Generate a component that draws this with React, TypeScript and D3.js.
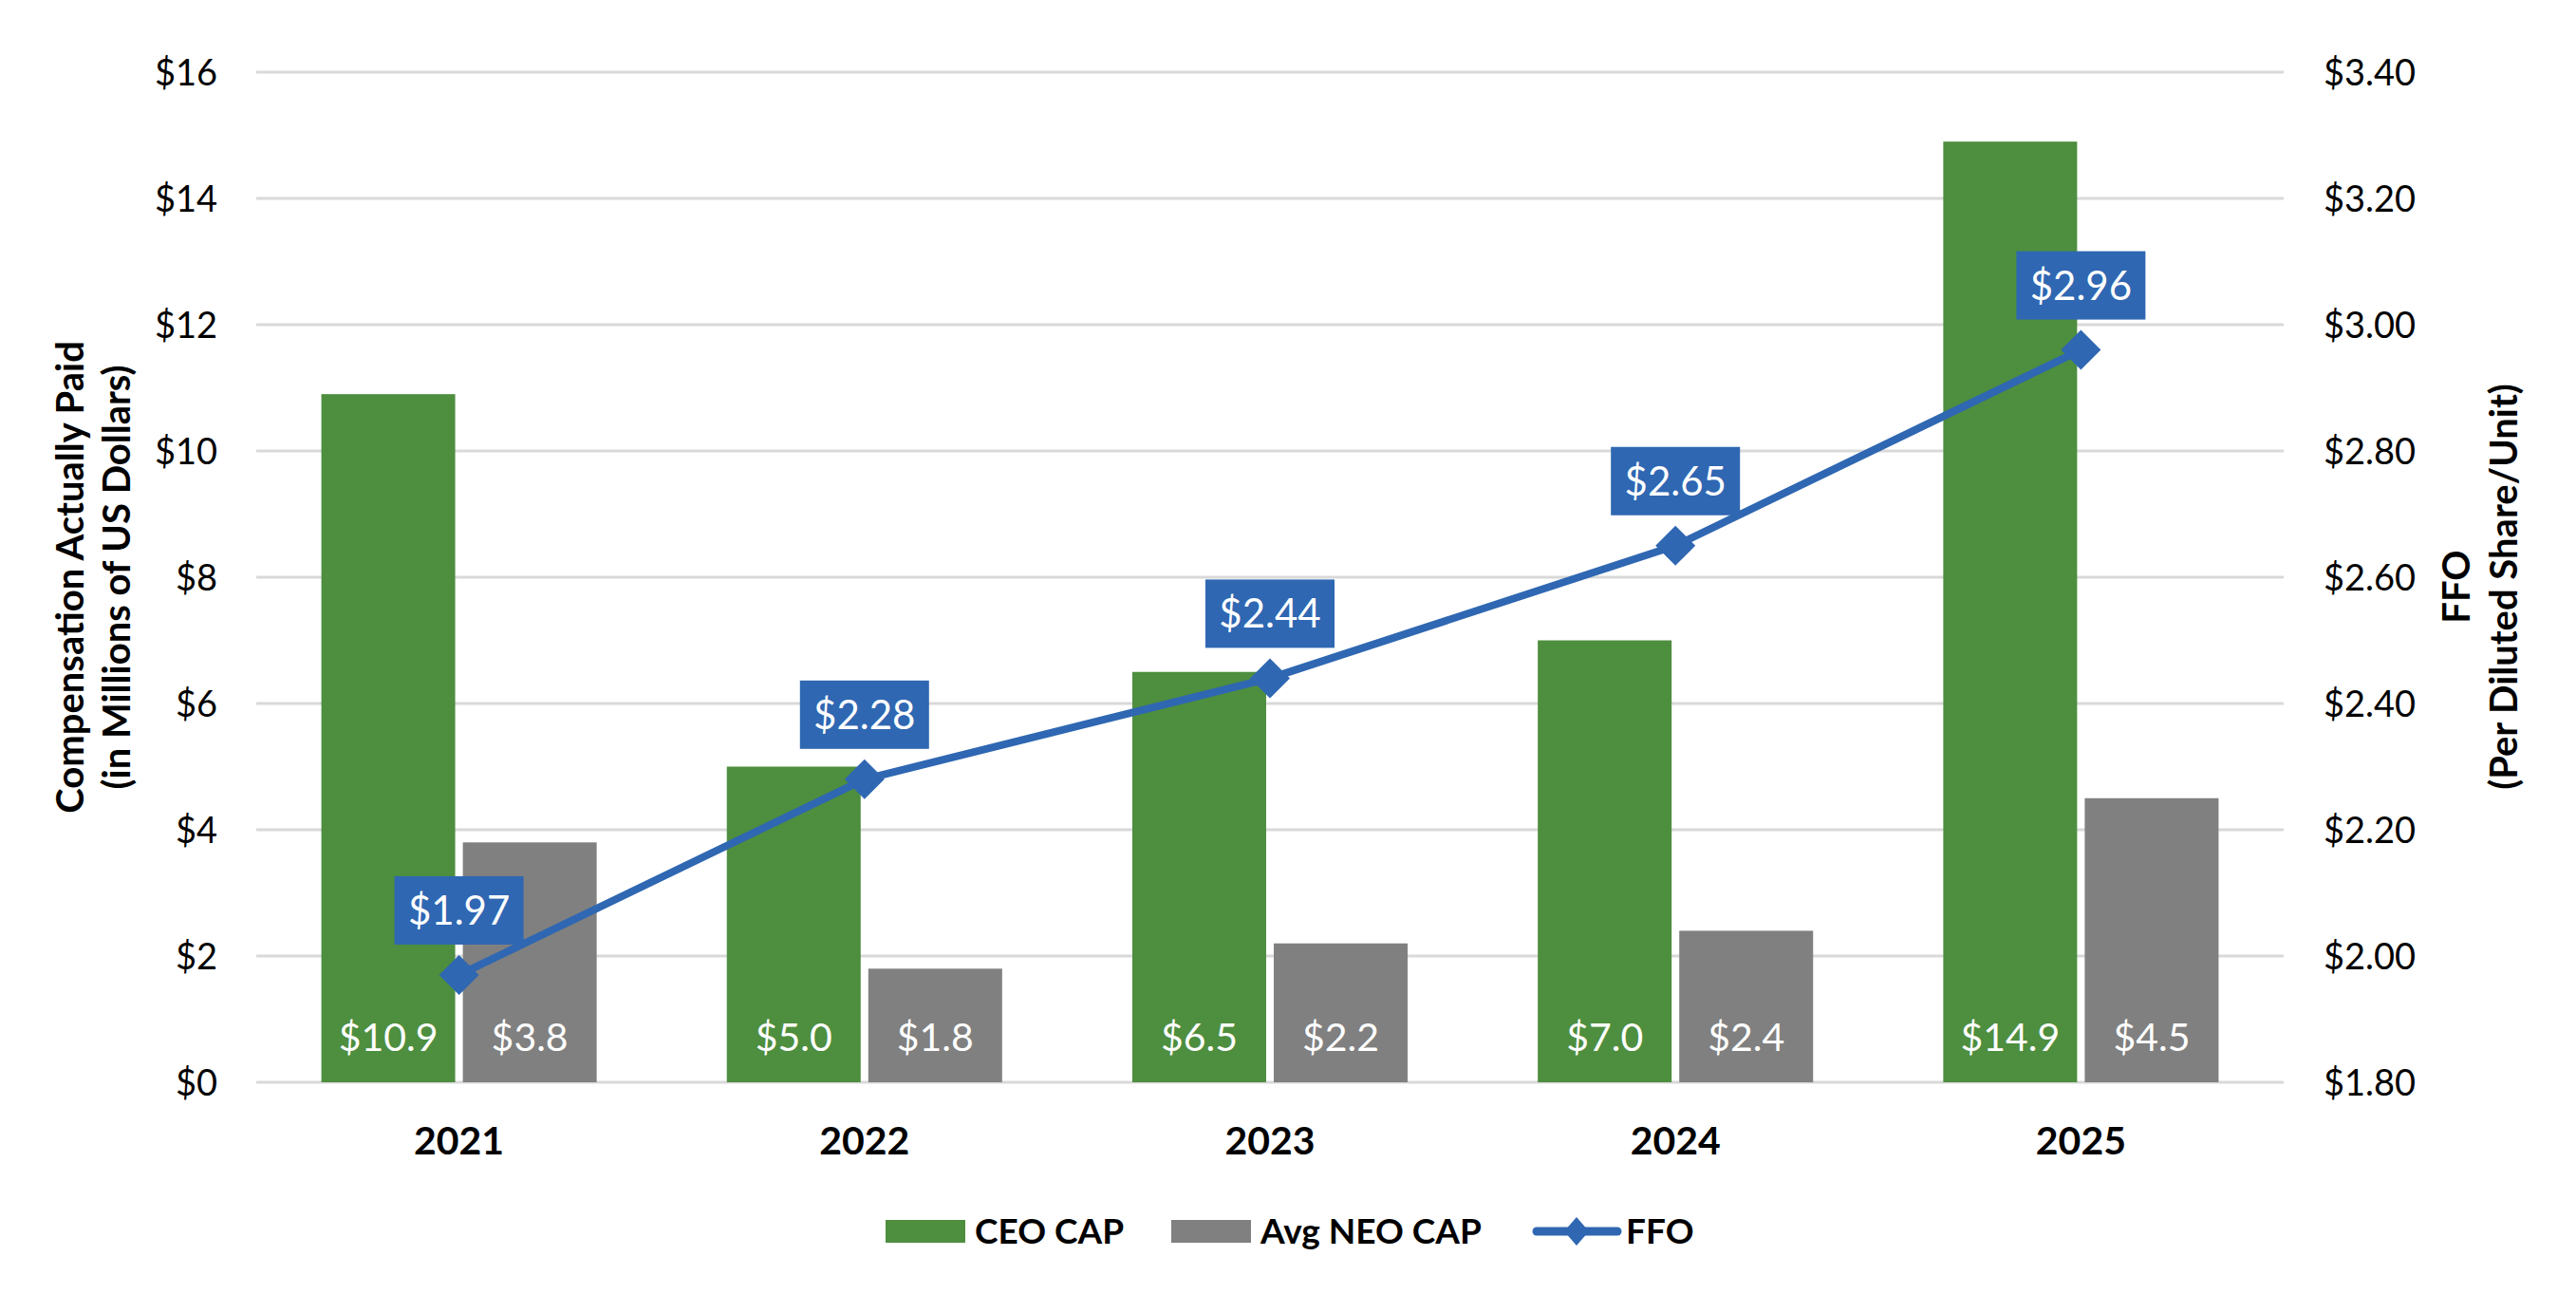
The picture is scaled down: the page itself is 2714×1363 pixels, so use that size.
import React from 'react';
import * as d3 from 'd3';

const years = ['2021', '2022', '2023', '2024', '2025'];
const ceoCap = [10.9, 5.0, 6.5, 7.0, 14.9];
const neoCap = [3.8, 1.8, 2.2, 2.4, 4.5];
const ffo = [1.97, 2.28, 2.44, 2.65, 2.96];
const leftTicks = [0, 2, 4, 6, 8, 10, 12, 14, 16];
const rightTicks = [1.8, 2.0, 2.2, 2.4, 2.6, 2.8, 3.0, 3.2, 3.4];
const seriesNames = ['CEO CAP', 'Avg NEO CAP', 'FFO'];

const W = 2714;
const H = 1363;
const GREEN = '#4e8e3f';
const GRAY = '#808080';
const BLUE = '#2f67b2';
const FONT = 'Lato, "Open Sans", sans-serif';

export default function App() {
  const plot = { left: 270, right: 2406, top: 76, bottom: 1140 };

  const x = d3.scaleBand<string>().domain(years).range([plot.left, plot.right]);
  const sub = d3.scaleBand<string>()
    .domain(['ceo', 'neo'])
    .range([0, x.bandwidth()])
    .paddingInner(0.054)
    .paddingOuter(0.46);
  const yL = d3.scaleLinear().domain([0, 16]).range([plot.bottom, plot.top]);
  const yR = d3.scaleLinear().domain([1.8, 3.4]).range([plot.bottom, plot.top]);

  const cx = (yr: string) => (x(yr) as number) + x.bandwidth() / 2;
  const line = d3.line<number>()
    .x((_, i) => cx(years[i]))
    .y(d => yR(d));

  const diamond = (px: number, py: number, r: number) =>
    `M${px},${py - r}L${px + r},${py}L${px},${py + r}L${px - r},${py}Z`;

  const bars = [
    { key: 'ceo', values: ceoCap, color: GREEN },
    { key: 'neo', values: neoCap, color: GRAY },
  ];

  return (
    <svg width={W} height={H} style={{ position: 'absolute', left: 0, top: 0 }} fontFamily={FONT}>
      <rect width={W} height={H} fill="#fff" />

      {/* gridlines */}
      {leftTicks.map(t => (
        <line key={t} x1={plot.left} x2={plot.right} y1={yL(t)} y2={yL(t)} stroke="#d9d9d9" strokeWidth={3} />
      ))}

      {/* left ticks */}
      {leftTicks.map(t => (
        <text key={'l' + t} x={229} y={yL(t)} dy="0.36em" textAnchor="end" fontSize={38} fill="#000">
          {'$' + t}
        </text>
      ))}
      {/* right ticks */}
      {rightTicks.map(t => (
        <text key={'r' + t} x={2448} y={yR(t)} dy="0.36em" textAnchor="start" fontSize={38} fill="#000">
          {'$' + t.toFixed(2)}
        </text>
      ))}

      {/* bars */}
      {bars.map(s =>
        s.values.map((v, i) => {
          const bx = (x(years[i]) as number) + (sub(s.key) as number);
          return (
            <g key={s.key + i}>
              <rect x={bx} y={yL(v)} width={sub.bandwidth()} height={yL(0) - yL(v)} fill={s.color} />
              <text x={bx + sub.bandwidth() / 2} y={plot.bottom - 33} textAnchor="middle" fontSize={41} fill="#fff">
                {'$' + v.toFixed(1)}
              </text>
            </g>
          );
        })
      )}

      {/* FFO line */}
      <path d={line(ffo) || ''} fill="none" stroke={BLUE} strokeWidth={8} strokeLinejoin="round" />
      {ffo.map((v, i) => (
        <path key={'m' + i} d={diamond(cx(years[i]), yR(v), 21)} fill={BLUE} />
      ))}
      {ffo.map((v, i) => {
        const px = cx(years[i]);
        const py = yR(v) - 68;
        return (
          <g key={'lab' + i}>
            <rect x={px - 68} y={py - 36} width={136} height={72} fill={BLUE} />
            <text x={px} y={py + 15} textAnchor="middle" fontSize={42} fill="#fff">
              {'$' + v.toFixed(2)}
            </text>
          </g>
        );
      })}

      {/* year labels */}
      {years.map(yr => (
        <text key={'y' + yr} x={cx(yr)} y={1216} textAnchor="middle" fontSize={41} fontWeight="bold" fill="#000">
          {yr}
        </text>
      ))}

      {/* axis titles */}
      <g transform={`translate(88,${(plot.top + plot.bottom) / 2}) rotate(-90)`}>
        <text textAnchor="middle" fontSize={40} fontWeight="bold" fill="#000">Compensation Actually Paid</text>
        <text y={49} textAnchor="middle" fontSize={40} fontWeight="bold" fill="#000">(in Millions of US Dollars)</text>
      </g>
      <g transform={`translate(2602,${(plot.top + plot.bottom) / 2 + 10}) rotate(-90)`}>
        <text textAnchor="middle" fontSize={40} fontWeight="bold" fill="#000">FFO</text>
        <text y={50} textAnchor="middle" fontSize={40} fontWeight="bold" fill="#000">(Per Diluted Share/Unit)</text>
      </g>

      {/* legend */}
      <rect x={933} y={1285} width={84} height={24} fill={GREEN} />
      <text x={1027} y={1310} fontSize={37} fontWeight="bold" fill="#000">{seriesNames[0]}</text>
      <rect x={1234} y={1285} width={84} height={24} fill={GRAY} />
      <text x={1328} y={1310} fontSize={37} fontWeight="bold" fill="#000">{seriesNames[1]}</text>
      <line x1={1619} x2={1704} y1={1297} y2={1297} stroke={BLUE} strokeWidth={9} strokeLinecap="round" />
      <path d={`M1661,1282L1674,1297L1661,1312L1648,1297Z`} fill={BLUE} />
      <text x={1713} y={1310} fontSize={37} fontWeight="bold" fill="#000">{seriesNames[2]}</text>
    </svg>
  );
}
